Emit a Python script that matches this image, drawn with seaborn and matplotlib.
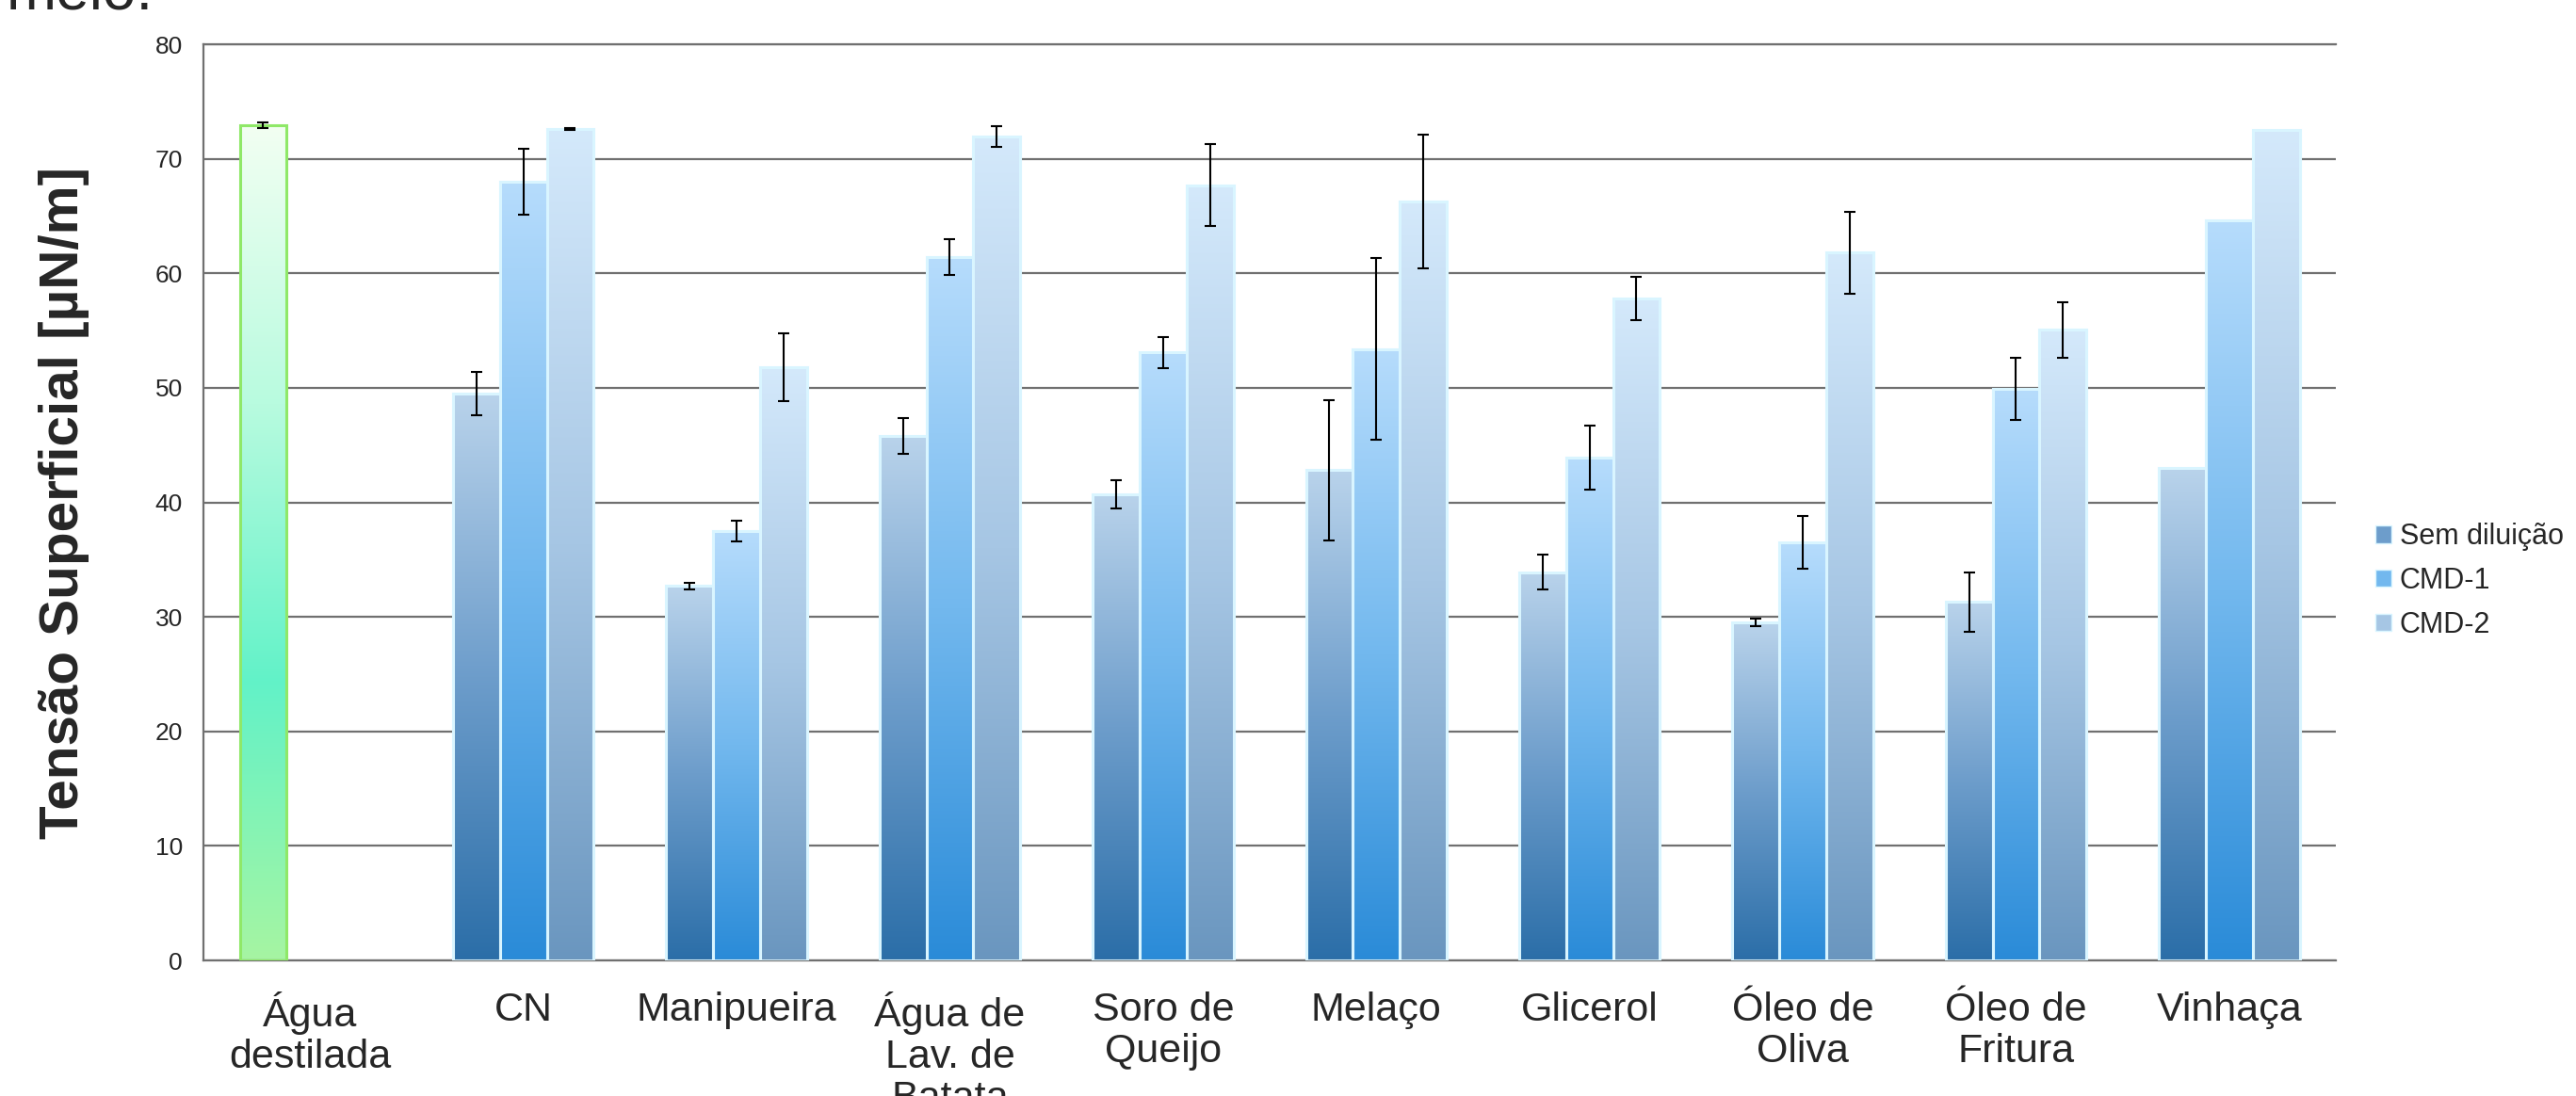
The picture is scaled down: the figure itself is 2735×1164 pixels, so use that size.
import numpy as np
import pandas as pd
import matplotlib
matplotlib.use("Agg")
import matplotlib.pyplot as plt
from matplotlib.colors import LinearSegmentedColormap
from matplotlib.patches import Patch
import seaborn as sns

categorias = ['Água\ndestilada', 'CN', 'Manipueira', 'Água de\nLav. de\nBatata', 'Soro de\nQueijo',
              'Melaço', 'Glicerol', 'Óleo de\nOliva', 'Óleo de\nFritura', 'Vinhaça']
series = ['Sem diluição', 'CMD-1', 'CMD-2']

sem_diluicao = [72.9, 49.5, 32.7, 45.8, 40.7, 42.8, 33.9, 29.5, 31.3, 43.0]
sem_diluicao_err = [0.25, 1.9, 0.3, 1.55, 1.2, 6.15, 1.5, 0.35, 2.6, 0.0]
cmd1 = [np.nan, 68.0, 37.5, 61.4, 53.1, 53.4, 43.9, 36.5, 49.9, 64.6]
cmd1_err = [np.nan, 2.9, 0.9, 1.55, 1.35, 7.9, 2.8, 2.3, 2.7, 0.0]
cmd2 = [np.nan, 72.6, 51.8, 71.95, 67.7, 66.25, 57.8, 61.8, 55.05, 72.5]
cmd2_err = [np.nan, 0.1, 2.95, 0.9, 3.55, 5.85, 1.9, 3.6, 2.45, 0.0]

y_ticks = [0, 10, 20, 30, 40, 50, 60, 70, 80]

# gradients (bottom -> top), like the excel fill
gradientes = {
    'Sem diluição': ['#2b6ea8', '#6d9dcb', '#b9d3eb'],
    'CMD-1': ['#2a8bd8', '#72b8ee', '#b6dcfc'],
    'CMD-2': ['#6a96bf', '#a6c6e4', '#d4e9fb'],
}
gradiente_agua = ['#a6f5a2', '#62f2c8', '#b8fbdf', '#f2fff2']

df = pd.DataFrame({
    'categoria': categorias * 3,
    'serie': np.repeat(series, len(categorias)),
    'valor': sem_diluicao + cmd1 + cmd2,
    'erro': sem_diluicao_err + cmd1_err + cmd2_err,
})
df = df.dropna(subset=['valor'])

sns.set_style("white")
plt.rcParams['font.family'] = ['Liberation Sans', 'DejaVu Sans']

fig = plt.figure(figsize=(27.35, 11.64), dpi=100)
ax = fig.add_axes([0.079, 0.1237, 0.8278, 0.8359])

sns.barplot(data=df, x='categoria', y='valor', hue='serie', order=categorias, hue_order=series,
            palette=[gradientes[s][1] for s in series], errorbar=None, width=0.66, gap=0,
            legend=False, ax=ax, zorder=3)

erros = {'Sem diluição': sem_diluicao_err, 'CMD-1': cmd1_err, 'CMD-2': cmd2_err}
for serie, cont in zip(series, ax.containers):
    for bar in cont:
        h = bar.get_height()
        if np.isnan(h):
            continue
        x0 = bar.get_x()
        w = bar.get_width()
        cat = int(round(x0 + w / 2))
        cores = gradientes[serie]
        borda = '#d9f5ff'
        if cat == 0:
            cores = gradiente_agua
            borda = '#8fe868'
        cmap = LinearSegmentedColormap.from_list('g', cores)
        grad = cmap(np.linspace(0, 1, 256)).reshape(256, 1, 4)
        im = ax.imshow(grad, extent=[x0, x0 + w, 0, h], origin='lower', aspect='auto',
                       interpolation='bicubic', zorder=2)
        im.set_clip_path(bar)
        bar.set_facecolor('none')
        bar.set_edgecolor(borda)
        bar.set_linewidth(2.2)
        e = erros[serie][cat]
        if e > 0:
            ax.errorbar(x0 + w / 2, h, yerr=e, fmt='none', ecolor='black', elinewidth=1.5,
                        capsize=4.5, capthick=1.5, zorder=6)

ax.set_xlim(-0.5, len(categorias) - 0.5)
ax.set_ylim(0, 80)
ax.set_yticks(y_ticks)
ax.yaxis.grid(True, color='#707070', linewidth=1.6, zorder=0)
ax.set_axisbelow(True)

for s in ['left', 'bottom', 'top']:
    ax.spines[s].set_color('#707070')
    ax.spines[s].set_linewidth(1.6)
ax.spines['right'].set_visible(False)

ax.set_xticks(range(len(categorias)))
ax.set_xticklabels(categorias, fontsize=31, linespacing=1.12)
ax.set_xticks(np.arange(-0.5, len(categorias)), minor=True)
ax.tick_params(axis='x', which='major', length=0, pad=24)
ax.tick_params(axis='x', which='minor', length=9, width=1.5, color='#707070', direction='out')
ax.tick_params(axis='y', length=6, width=1.5, color='#707070', direction='out', labelsize=19, pad=10)

ax.set_xlabel('')
ax.set_ylabel('Tensão Superficial [µN/m]', fontsize=42, fontweight='bold', labelpad=50)

handles = [Patch(facecolor=gradientes[s][1], edgecolor='#d9f5ff', label=s) for s in series]
ax.legend(handles=handles, loc='center left', bbox_to_anchor=(2522 / 2735, 0.47), bbox_transform=fig.transFigure,
          frameon=False, fontsize=22, handlelength=0.55, handleheight=0.55, handletextpad=0.3,
          labelspacing=0.55, borderaxespad=0, borderpad=0)

# slide title cut off at the top edge
fig.text(163 / 2735, 1 - 9 / 1164, 'meio.', fontsize=46, ha='right', va='baseline')

fig.savefig('out.png', dpi=100)
